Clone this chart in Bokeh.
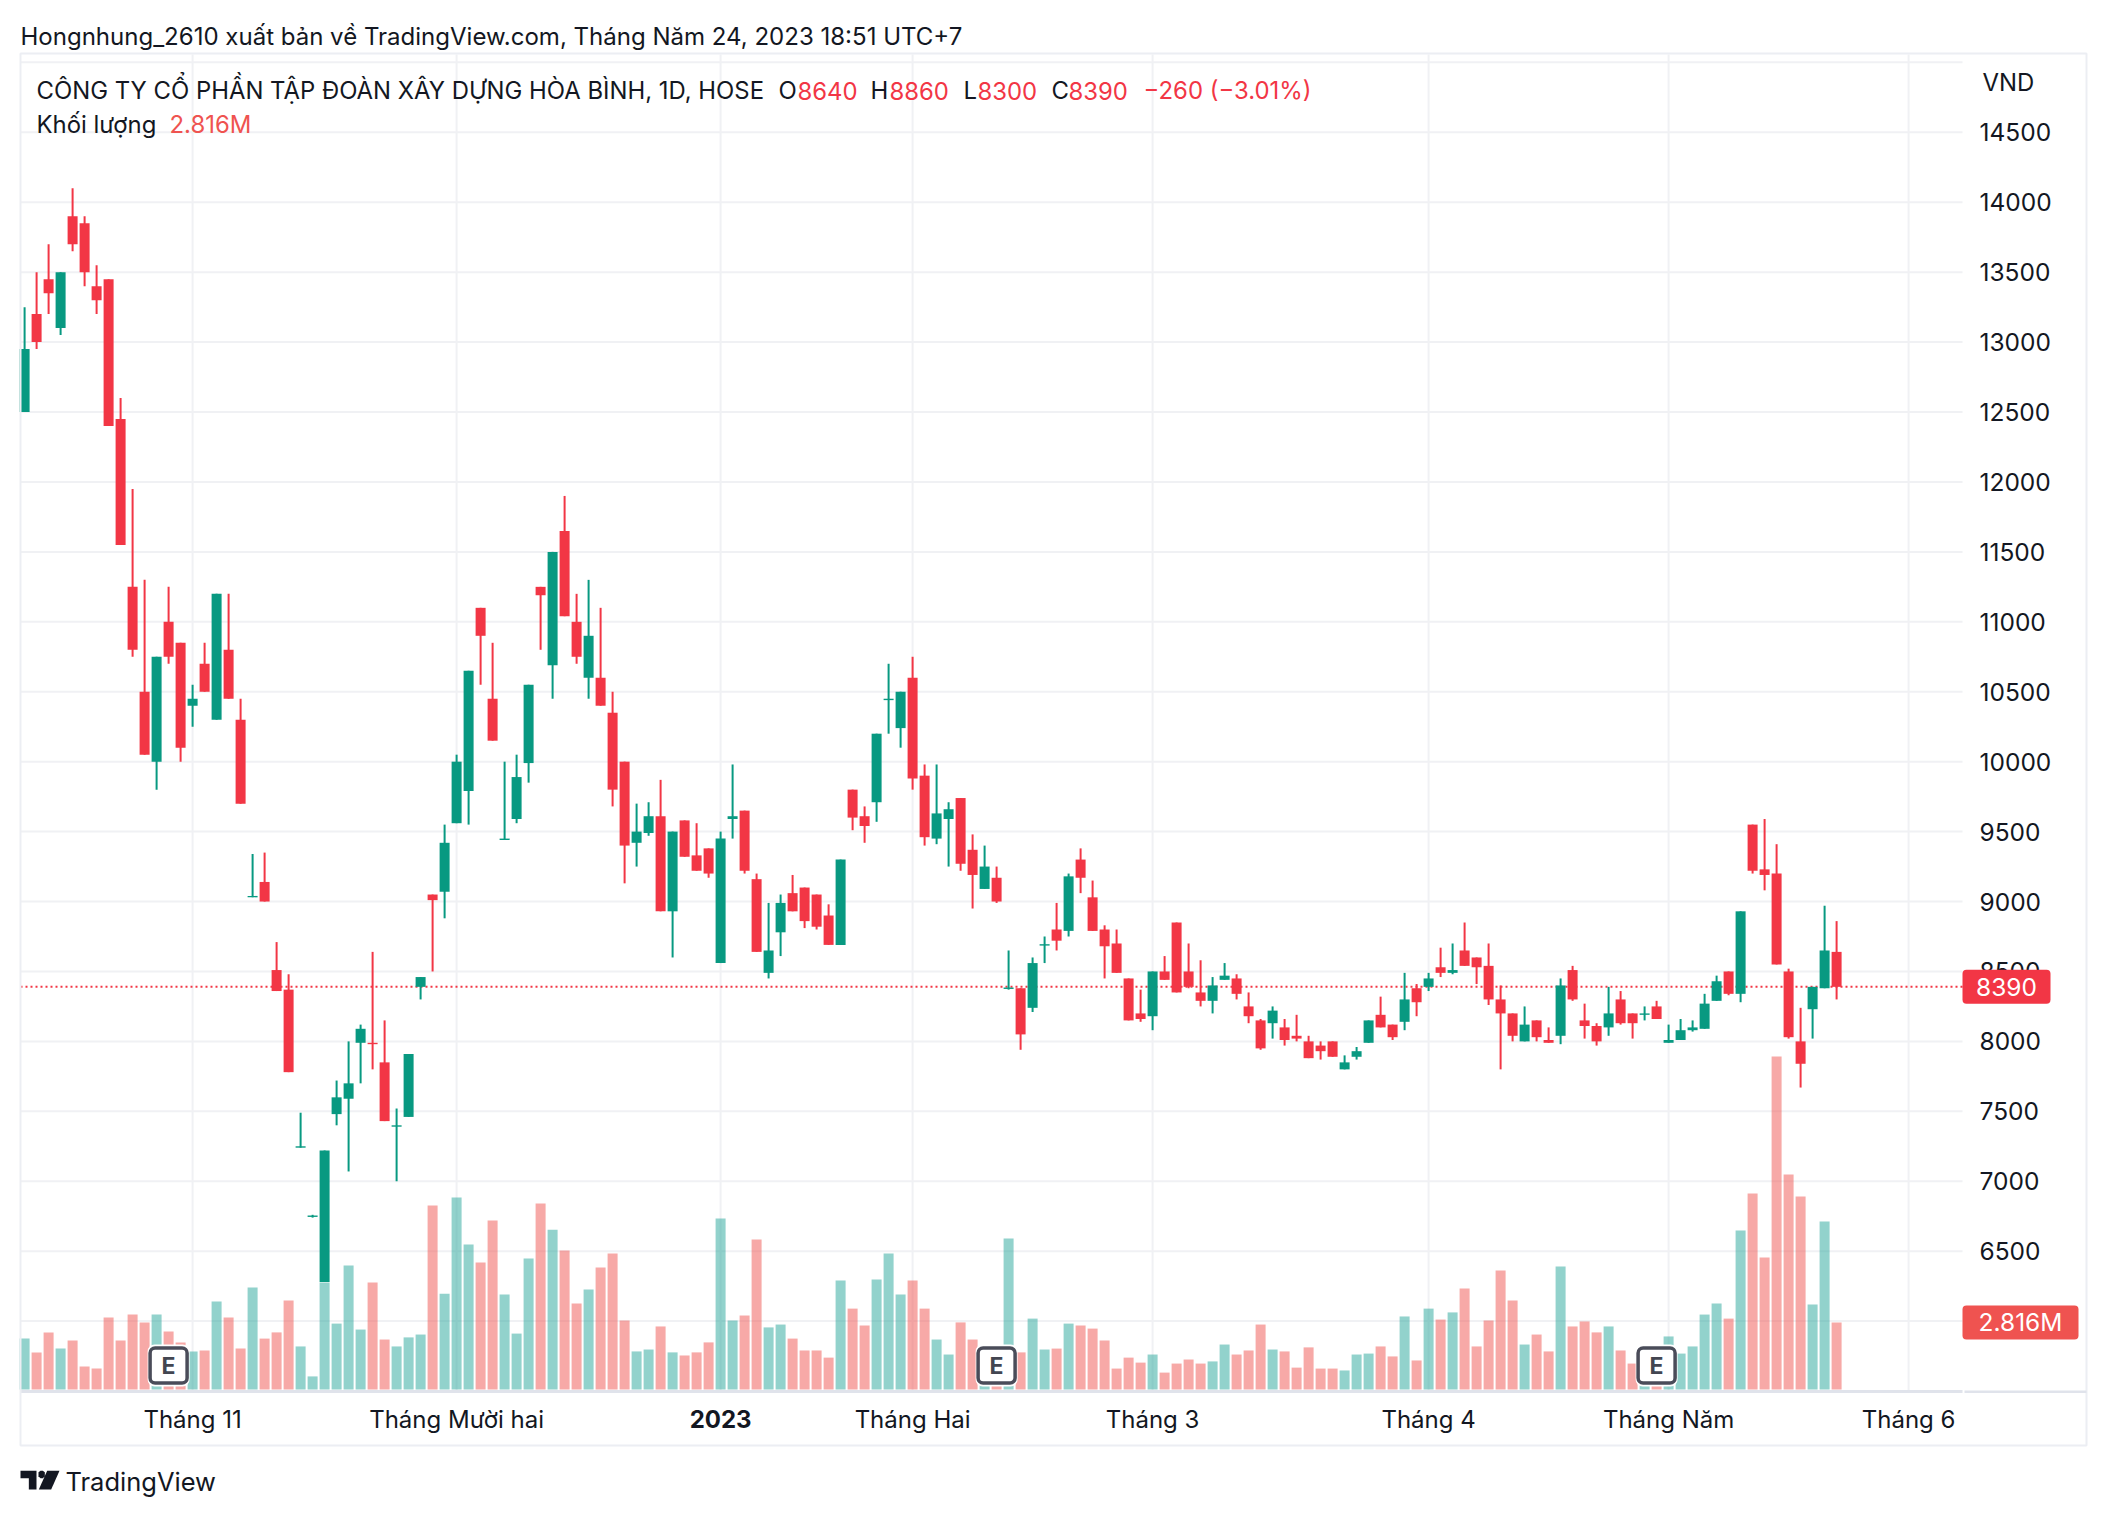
from bokeh.plotting import figure
from bokeh.models import (Range1d, LinearAxis, FixedTicker, Label, BoxAnnotation,
                          PolyAnnotation, ColumnDataSource)
from bokeh.embed import file_html
from bokeh.resources import INLINE

opens = [12500,13200,13450,13100,13900,13850,13400,13450,12450,11250,10500,10000,11000,10850,10400,10700,10300,10800,10300,9030,
         9140,8510,8370,7240,6745,6280,7480,7590,7990,7990,7850,7390,7460,8390,9050,9070,9560,9790,11100,10450,
         9440,9590,9990,11250,10690,11650,11000,10600,10600,10350,10000,9420,9490,9610,8930,9580,9330,9380,8560,9590,
         9650,9160,8490,8780,9060,9100,9050,8900,8690,9800,9610,9710,10440,10240,10600,9900,9450,9590,9740,9370,
         9090,9170,8375,8380,8240,8685,8800,8790,9300,9030,8800,8700,8450,8200,8180,8500,8850,8500,8350,8290,
         8440,8450,8250,8150,8130,8100,8040,8000,7970,8000,7800,7890,7990,8190,8120,8140,8380,8390,8530,8490,
         8650,8600,8540,8300,8200,8000,8150,8010,8040,8510,8150,8110,8100,8300,8200,8190,8250,7990,8010,8080,
         8090,8290,8500,8340,9550,9230,9200,8500,8000,8230,8380,8640]
highs = [13250,13500,13700,13500,14100,13900,13550,13450,12600,11950,11300,10750,11250,10850,10550,10850,11200,11200,10450,9340,
         9350,8710,8480,7490,6760,7220,7720,8000,8120,8640,8150,7520,7910,8460,9050,9550,10050,10650,11100,10850,
         10000,10050,10550,11250,11500,11900,11200,11300,11100,10500,10000,9700,9710,9870,9500,9580,9560,9380,9500,9980,
         9650,9200,8990,9050,9190,9100,9050,8980,9300,9800,9680,10200,10700,10500,10750,9980,9980,9710,9740,9480,
         9400,9250,8650,8380,8600,8750,8990,9200,9380,9150,8830,8800,8450,8370,8500,8610,8850,8700,8580,8460,
         8560,8480,8350,8160,8250,8160,8190,8040,8000,8000,7900,7960,8150,8320,8120,8490,8410,8490,8670,8700,
         8850,8600,8700,8400,8200,8250,8150,8100,8450,8540,8270,8130,8390,8360,8200,8250,8290,8120,8160,8150,
         8340,8470,8500,8930,9550,9590,9410,8520,8240,8390,8970,8860]
lows = [12500,12950,13200,13050,13650,13400,13200,12400,11550,10750,10050,9800,10700,10000,10250,10500,10300,10450,9700,9030,
        9000,8360,7780,7240,6740,6280,7400,7070,7700,7800,7430,7000,7460,8300,8500,8880,9560,9550,10550,10150,
        9440,9560,9850,10800,10450,11040,10700,10450,10400,9680,9130,9250,9470,8930,8600,9320,9220,9170,8560,9450,
        9200,8640,8450,8610,8930,8810,8800,8690,8690,9510,9420,9570,10200,10100,9800,9400,9410,9250,9220,8950,
        9090,8990,8370,7940,8210,8560,8650,8750,9060,8790,8450,8490,8150,8140,8080,8440,8350,8380,8250,8200,
        8440,8300,8130,7940,8020,7970,8000,7880,7870,7890,7800,7870,7990,8100,8010,8080,8180,8360,8460,8480,
        8540,8410,8260,7800,8000,8000,8000,7990,7980,8290,8020,7970,8040,8120,8020,8150,8160,7990,8010,8070,
        8090,8290,8330,8280,9200,9080,8550,8020,7670,8020,8380,8300]
closes = [12950,13000,13350,13500,13700,13500,13300,12400,11550,10800,10050,10750,10750,10100,10450,10500,11200,10450,9700,9040,
          9000,8360,7780,7250,6755,7220,7600,7700,8090,7980,7430,7400,7910,8460,9010,9420,10000,10650,10900,10150,
          9450,9890,10550,11190,11500,11040,10750,10900,10400,9800,9400,9500,9610,8930,9500,9320,9220,9200,9450,9610,
          9220,8640,8650,8990,8930,8860,8820,8690,9300,9600,9540,10200,10450,10500,9880,9460,9630,9660,9270,9190,
          9250,9000,8385,8050,8560,8695,8720,9180,9170,8790,8680,8490,8150,8160,8500,8440,8350,8390,8290,8400,
          8470,8340,8180,7950,8220,8010,8020,7880,7930,7890,7850,7930,8150,8100,8030,8300,8280,8450,8490,8510,
          8540,8530,8300,8200,8040,8120,8030,7990,8400,8300,8110,8000,8200,8130,8130,8200,8160,8010,8080,8100,
          8270,8430,8340,8930,9220,9190,8550,8030,7840,8390,8650,8390]
volumes_m = [2.14,1.56,2.40,1.72,2.06,0.97,0.88,3.03,2.06,3.15,2.82,3.15,2.44,1.98,1.60,1.64,3.70,3.03,1.72,4.29,
             2.14,2.40,3.74,1.81,0.55,4.50,2.77,5.21,2.52,4.50,2.10,1.81,2.19,2.31,7.73,4.03,8.07,6.09,5.34,7.10,
             3.99,2.35,5.51,7.82,6.72,5.84,3.61,4.20,5.13,5.72,2.90,1.60,1.68,2.65,1.56,1.43,1.56,1.98,7.19,2.90,
             3.11,6.30,2.61,2.73,2.14,1.64,1.64,1.34,4.58,3.40,2.69,4.62,5.72,3.99,4.58,3.40,2.10,1.47,2.82,2.10,
             1.30,1.20,6.35,1.56,2.98,1.68,1.72,2.77,2.69,2.56,2.06,0.88,1.34,1.13,1.47,0.71,1.09,1.26,1.09,1.18,
             1.89,1.47,1.64,2.73,1.68,1.60,0.92,1.77,0.88,0.88,0.80,1.47,1.51,1.81,1.39,3.07,1.22,3.40,2.94,3.24,
             4.25,1.81,2.90,5.00,3.74,1.89,2.31,1.60,5.17,2.65,2.86,2.40,2.65,1.64,1.09,1.00,0.90,2.23,1.51,1.81,
             3.15,3.61,2.98,6.68,8.24,5.55,14.0,9.04,8.11,3.57,7.06,2.816]
month_ticks = [14, 36, 58, 74, 94, 117, 137, 157]
month_labels = ["Tháng 11", "Tháng Mười hai", "", "Tháng Hai", "Tháng 3", "Tháng 4", "Tháng Năm", "Tháng 6"]
year_tick, year_label = 58, "2023"
earnings_bars = [12, 81, 136]
price_ticks = list(range(6000, 15001, 500))
hidden_price_ticks = [6000, 15000]
last_price_text = "8390"
last_volume_text = "2.816M"

UP, DOWN = "#089981", "#f23645"
VUP, VDOWN = "#26a69a", "#ef5350"
INK = "#131722"
GRID = "#f0f1f4"
FONT = "Inter"
FS = "24px"
W, H = 2090, 1500
F_L, F_T, F_R, F_B = 20, 54, 1962, 1390   # chart pane edges on the picture

def X(px):
    return (px - 24.1) / 12.0

def Y(py):
    return 14500 - (py - 131.8) * 500 / 69.93

def SX(px):
    return px

def SY(py):
    return H - py

idx = list(range(len(closes)))
up = [c >= o for o, c in zip(opens, closes)]
src = ColumnDataSource(dict(
    i=idx,
    o=opens, h=highs, l=lows, c=closes, v=volumes_m,
    top=[max(a, b) for a, b in zip(opens, closes)],
    bot=[min(a, b) for a, b in zip(opens, closes)],
    col=[UP if u else DOWN for u in up],
    vcol=[VUP if u else VDOWN for u in up],
))

p = figure(width=W, height=H, output_backend="svg", toolbar_location=None,
           x_range=Range1d(X(0), X(W)), y_range=Range1d(Y(H), Y(0)),
           x_axis_location=None, y_axis_location=None, min_border=0, outline_line_color=None,
           background_fill_color="white", border_fill_color="white")
p.extra_y_ranges = {"vol": Range1d(-(H - 1389) / 23.79, 1389 / 23.79)}
p.grid.visible = False

xticker = FixedTicker(ticks=month_ticks)
yticker = FixedTicker(ticks=price_ticks)
xaxis = LinearAxis(ticker=xticker, fixed_location=Y(1391), bounds=(X(F_L), X(F_R)),
                   major_label_overrides={t: s for t, s in zip(month_ticks, month_labels)},
                   axis_line_color="#e0e3eb", axis_line_width=3, major_label_standoff=7)
yaxis = LinearAxis(ticker=yticker, fixed_location=X(F_R), axis_line_color=None,
                   major_label_overrides={t: "" for t in hidden_price_ticks},
                   major_label_standoff=11, major_label_text_font_size="24.5px")
for ax in (xaxis, yaxis):
    ax.major_tick_line_color = None
    ax.minor_tick_line_color = None
    ax.major_label_text_font = FONT
    ax.major_label_text_color = INK
xaxis.major_label_text_font_size = FS
p.add_layout(xaxis, "below")
p.add_layout(yaxis, "right")

# grid lines that stop at the edges of the chart pane
p.segment(x0=month_ticks, x1=month_ticks, y0=[Y(F_B)] * len(month_ticks), y1=[Y(F_T)] * len(month_ticks),
          line_color=GRID, line_width=2, level="underlay")
p.segment(x0=[X(F_L)] * len(price_ticks), x1=[X(F_R)] * len(price_ticks), y0=price_ticks, y1=price_ticks,
          line_color=GRID, line_width=2, level="underlay")

p.line([X(F_L), X(F_R)], [closes[-1], closes[-1]], line_color=DOWN, line_width=2, line_dash="2 3")

p.vbar(x="i", width=10 / 12, bottom=0, top="v", source=src, color="vcol", alpha=0.5,
       line_color=None, y_range_name="vol")
p.segment(x0="i", x1="i", y0="l", y1="h", source=src, line_color="col", line_width=2)
p.vbar(x="i", width=10 / 12, bottom="bot", top="top", source=src, fill_color="col", line_color=None)

def box(l, t, r, b, **kw):
    kw.setdefault("line_alpha", 1)
    kw.setdefault("fill_alpha", 1)
    a = BoxAnnotation(left=SX(l), right=SX(r), top=SY(t), bottom=SY(b),
                      left_units="screen", right_units="screen", top_units="screen", bottom_units="screen",
                      **kw)
    p.add_layout(a)
    return a

def label(px, py, text, color=INK, size=FS, align="left", style="normal", **kw):
    a = Label(x=SX(px), y=SY(py), x_units="screen", y_units="screen", text=text, text_color=color,
              text_font=FONT, text_font_size=size,
              text_align=align, text_baseline="middle", text_font_style=style, **kw)
    p.add_layout(a)
    return a

# frame around the widget
box(20, 53, 2086, 1445, fill_alpha=0, line_color="#eceef3", line_width=2)
box(1964, 1390, 2086, 1392.5, fill_color="#e0e3eb", line_alpha=0)

# earnings markers
for bar in earnings_bars:
    cx = 24.1 + 12 * bar
    box(cx - 21, 1344, cx + 21, 1386, fill_color="white", line_alpha=0, border_radius=7)
    box(cx - 18.5, 1347.5, cx + 18.5, 1382.5, fill_color="white", line_color="#4a4c59",
        line_width=3.5, border_radius=5)
    label(cx, 1365, "E", color="#434651", size="23px", align="center", style="bold")

# last value tags
tag_y = 131.8 + (14500 - closes[-1]) * 69.93 / 500
box(1962, tag_y - 17, 2050, tag_y + 17, fill_color=DOWN, line_alpha=0, border_radius=4)
label(2006, tag_y, last_price_text, color="white", align="center", size="24.5px")
vol_y = 1389 - volumes_m[-1] * 23.79
box(1962, vol_y - 17, 2078, vol_y + 17, fill_color=VDOWN, line_alpha=0, border_radius=4)
label(2020, vol_y - 1, last_volume_text, color="white", align="center", size="24.5px")

# year label in bold
label(24.1 + 12 * year_tick, 1418, year_label, style="bold", align="center")

# headers
HF = "23.9px"
label(20, 36, "Hongnhung_2610 xuất bản về TradingView.com, Tháng Năm 24, 2023 18:51 UTC+7", size="24.03px")
label(36, 90, "CÔNG TY CỔ PHẦN TẬP ĐOÀN XÂY DỰNG HÒA BÌNH, 1D, HOSE", size="23.88px")
for xpos, s, c in [(778, "O", INK), (797, "8640", DOWN), (870, "H", INK), (889, "8860", DOWN),
                   (963, "L", INK), (977, "8300", DOWN), (1051, "C", INK), (1068, "8390", DOWN),
                   (1143, "−260 (−3.01%)", DOWN)]:
    label(xpos, 90, s, color=c, size=HF)
label(36, 124, "Khối lượng", size=HF)
label(169, 124, "2.816M", color=VDOWN, size=HF)
label(1982, 82, "VND", size=HF)

# TradingView logo
def lx(z):
    return SX(10 + z / 3)

def ly(z):
    return SY(1455 + z / 3)

for pts in [[(30, 46), (78, 46), (78, 102), (55, 102), (55, 68), (30, 68)],
            [(110, 46), (147, 46), (122, 102), (85, 102)],
            [(84, 50), (90, 46), (97, 46), (103, 50), (103, 62), (97, 68), (90, 68), (84, 62)]]:
    p.add_layout(PolyAnnotation(xs=[lx(a) for a, b in pts], ys=[ly(b) for a, b in pts],
                                xs_units="screen", ys_units="screen",
                                fill_color=INK, fill_alpha=1, line_alpha=0))
label(65, 1481, "TradingView", size="25.5px")

open("out.html", "w").write(file_html(p, INLINE))
